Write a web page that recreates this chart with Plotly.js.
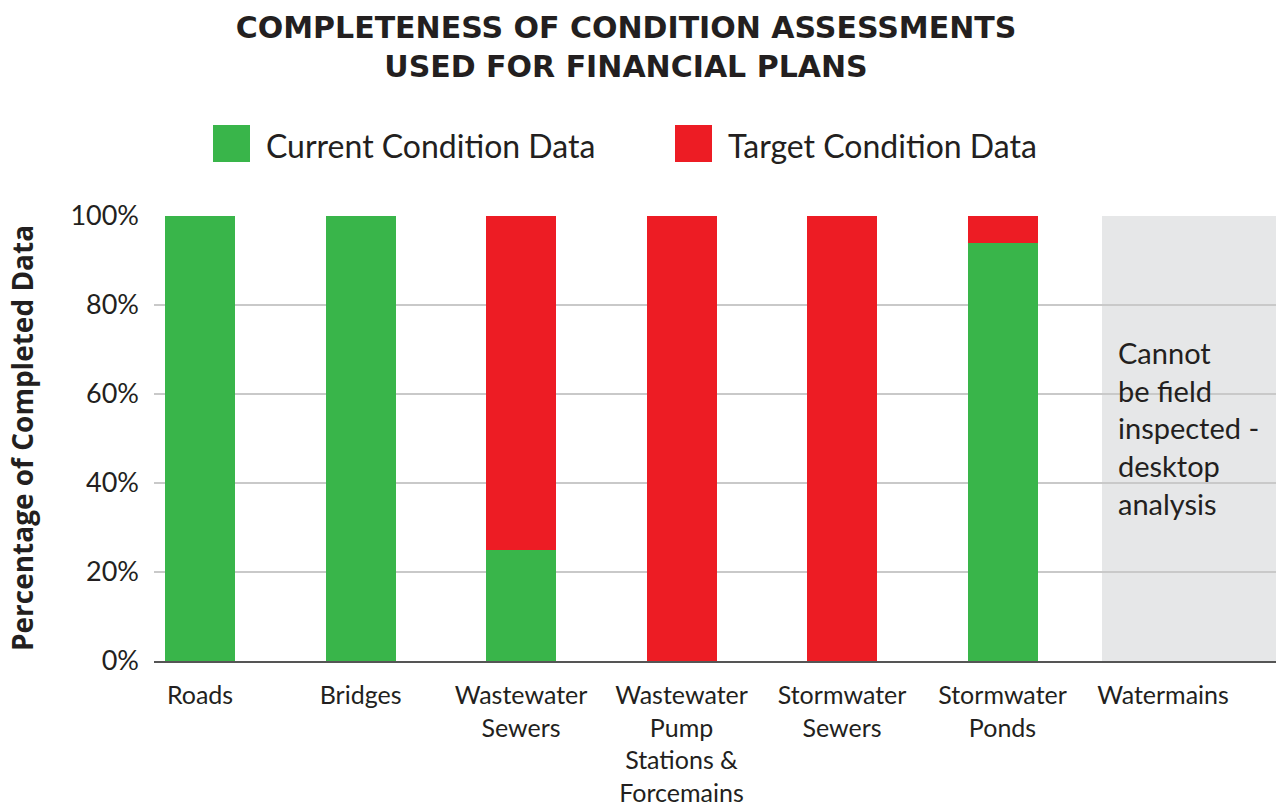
<!DOCTYPE html>
<html>
<head>
<meta charset="utf-8">
<script src="https://cdn.plot.ly/plotly-3.0.1.min.js"></script>
<style>html,body{margin:0;padding:0;background:#fff;}#chart{width:1278px;height:806px;}</style>
</head>
<body>
<div id="chart"></div>
<script>
const categories = ["Roads", "Bridges", "Wastewater<br>Sewers", "Wastewater<br>Pump<br>Stations &<br>Forcemains", "Stormwater<br>Sewers", "Stormwater<br>Ponds", "Watermains"];
const currentCondition = [100, 100, 25, 0, 0, 94, 0];
const targetCondition = [0, 0, 75, 100, 100, 6, 0];
const seriesNames = ["Current Condition Data", "Target Condition Data"];
const yTickVals = [0, 20, 40, 60, 80, 100];
const yTickText = yTickVals.map(v => v + "%");
const watermainsNote = "Cannot<br>be field<br>inspected -<br>desktop<br>analysis";

const GREEN = "#39b54a", RED = "#ed1c24", GREY = "#e6e7e8", TXT = "#231f20";
const FONT = "Lato, 'Open Sans', sans-serif";

// plot area in pixels
const L = 154, R = 1276, T = 215, B = 661;
const px = v => (v - L) / (R - L);
const py = v => (B - v) / (B - T);

const traces = [
  {type: "bar", name: seriesNames[0], x: categories, y: currentCondition, marker: {color: GREEN}, hoverinfo: "x+y"},
  {type: "bar", name: seriesNames[1], x: categories, y: targetCondition, marker: {color: RED}, hoverinfo: "x+y"}
];

const legendColors = [GREEN, RED];
const legendBoxes = [213, 675];
const shapes = [
  {type: "rect", xref: "paper", yref: "y", x0: px(1102), x1: 1, y0: 0, y1: 100, fillcolor: GREY, line: {width: 0}, layer: "between"}
];
const annotations = [
  {xref: "paper", yref: "paper", x: px(1116), y: py(428), xanchor: "left", yanchor: "middle", align: "left",
   text: watermainsNote, showarrow: false, font: {family: FONT, size: 29, color: TXT}}
];
seriesNames.forEach((n, i) => {
  const x0 = legendBoxes[i];
  shapes.push({type: "rect", xref: "paper", yref: "paper", x0: px(x0), x1: px(x0 + 37), y0: py(162), y1: py(125), fillcolor: legendColors[i], line: {width: 0}});
  annotations.push({xref: "paper", yref: "paper", x: px(x0 + 51), y: py(145), xanchor: "left", yanchor: "middle",
    text: n, showarrow: false, font: {family: FONT, size: 32, color: TXT}});
});

const layout = {
  width: 1278, height: 806,
  margin: {l: L, r: 1278 - R, t: T, b: 806 - B, pad: 0},
  paper_bgcolor: "#fff", plot_bgcolor: "#fff",
  barmode: "stack",
  bargap: 0.564,
  showlegend: false,
  title: {text: "COMPLETENESS OF CONDITION ASSESSMENTS<br>USED FOR FINANCIAL PLANS", x: 626 / 1278, xanchor: "center",
          y: 1 - 38 / 806, yanchor: "top", yref: "container",
          font: {family: "'DejaVu Sans', sans-serif", size: 30, weight: 700, color: TXT}},
  xaxis: {type: "category", range: [-0.287, 6.704], showgrid: false, showline: true, linecolor: "#555", linewidth: 2,
          ticks: "", ticklabelstandoff: 11, tickfont: {family: FONT, size: 25, color: TXT}, fixedrange: true, zeroline: false},
  yaxis: {range: [0, 100.2], tickvals: yTickVals, ticktext: yTickText, showgrid: true, gridcolor: "#c9c9c9", gridwidth: 1.5,
          zeroline: false, showline: false, ticks: "", ticklabelstandoff: 14,
          tickfont: {family: FONT, size: 27, color: TXT},
          title: {text: "Percentage of Completed Data", standoff: 28, font: {family: "'Open Sans', Lato, sans-serif", size: 28, weight: 700, color: TXT}},
          fixedrange: true},
  shapes: shapes,
  annotations: annotations
};

Plotly.newPlot("chart", traces, layout, {displayModeBar: false, responsive: false});
</script>
</body>
</html>
